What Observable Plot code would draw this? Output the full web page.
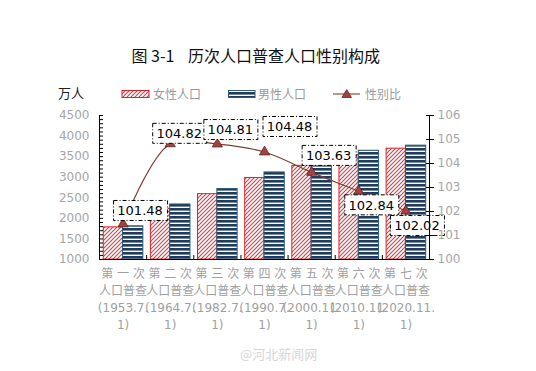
<!DOCTYPE html>
<html><head><meta charset="utf-8">
<script src="https://cdn.jsdelivr.net/npm/d3@7"></script>
<script src="https://cdn.jsdelivr.net/npm/@observablehq/plot@0.6"></script>
<style>
body{margin:0;background:#fff;}
#wrap{position:relative;width:536px;height:371px;overflow:hidden;font-family:"DejaVu Sans","Noto Sans CJK SC",sans-serif;}
#chart{position:absolute;left:0;top:0;}
#over{position:absolute;left:0;top:0;}
</style></head><body>
<div id="wrap"><div id="chart"></div>
<svg id="over" width="536" height="371" xmlns="http://www.w3.org/2000/svg">
  <defs>
    <pattern id="hatchF" patternUnits="userSpaceOnUse" width="4" height="4">
      <rect width="4" height="4" fill="#fff"/>
      <path d="M-1,1 l2,-2 M0,4 l4,-4 M3,5 l2,-2" stroke="#c9434e" stroke-width="1.1"/>
    </pattern>
    <pattern id="stripeM" patternUnits="userSpaceOnUse" width="4" height="4">
      <rect width="4" height="4" fill="#fff"/>
      <rect width="4" height="2.6" fill="#1f3b60"/>
    </pattern>
  </defs>
  <text x="131.5" y="62" font-family="Noto Sans CJK SC" font-size="16" fill="#111">图 3-1</text>
  <text x="188" y="62" font-family="Noto Sans CJK SC" font-size="16" fill="#111">历次人口普查人口性别构成</text>
  <text x="58" y="98" font-family="Noto Sans CJK SC" font-size="13" fill="#222">万人</text>
  <rect x="122" y="90.5" width="27" height="7" fill="url(#hatchF)" stroke="#e0202a"/>
  <text x="153" y="98.5" font-family="Noto Sans CJK SC" font-size="12" fill="#9a9a9a">女性人口</text>
  <rect x="228.5" y="90.5" width="26.5" height="7" fill="url(#stripeM)" stroke="#2b5a7c"/>
  <text x="258" y="98.5" font-family="Noto Sans CJK SC" font-size="12" fill="#9a9a9a">男性人口</text>
  <line x1="333" x2="360" y1="94" y2="94" stroke="#a07566" stroke-width="1.5"/>
  <path d="M346.7,89.5 L351.5,97.5 L341.9,97.5 Z" fill="#a5413f" stroke="#4a1a1a" stroke-width="0.7"/>
  <text x="365" y="98.5" font-family="Noto Sans CJK SC" font-size="12" fill="#9a9a9a">性别比</text>
  <text x="240" y="359" font-family="Noto Sans CJK SC" font-size="13" fill="#d6d6d6">@河北新闻网</text>
</svg>
</div>
<script>
// ---- data ----
const censusLabels = [
  "第 一 次\n人口普查\n(1953.7.\n1)",
  "第 二 次\n人口普查\n(1964.7.\n1)",
  "第 三 次\n人口普查\n(1982.7.\n1)",
  "第 四 次\n人口普查\n(1990.7.\n1)",
  "第 五 次\n人口普查\n(2000.11.\n1)",
  "第 六 次\n人口普查\n(2010.11.\n1)",
  "第 七 次\n人口普查\n(2020.11.\n1)"
];
const female = [1781, 2231, 2588, 2982, 3276, 3542, 3694];
const male = [1807, 2338, 2712, 3116, 3392, 3643, 3767];
const sexRatio = [101.48, 104.82, 104.81, 104.48, 103.63, 102.84, 102.02];
const leftTicks = [1000, 1500, 2000, 2500, 3000, 3500, 4000, 4500];
const rightTicks = [100, 101, 102, 103, 104, 105, 106];

// ---- styling / layout ----
const labelOffsets = [[17, -13], [9, -10], [13, -14], [25, -25], [17, -16.5], [12.5, 14], [11, 15]];
const barW = 0.41;
const yDomain = [leftTicks[0], leftTicks[leftTicks.length - 1]];
const rDomain = [rightTicks[0], rightTicks[rightTicks.length - 1]];
const xDomain = [-0.5, censusLabels.length - 0.5];
const toLeft = r => yDomain[0] + (r - rDomain[0]) * (yDomain[1] - yDomain[0]) / (rDomain[1] - rDomain[0]);
const fromLeft = v => rDomain[0] + (v - yDomain[0]) * (rDomain[1] - rDomain[0]) / (yDomain[1] - yDomain[0]);

const fRows = female.map((v, i) => ({i, v}));
const mRows = male.map((v, i) => ({i, v}));
const rRows = sexRatio.map((r, i) => ({i, r, y: toLeft(r)}));

const labelMarks = rRows.map((d, k) => Plot.text([d], {
  x: "i", y: "y", text: d => d.r.toFixed(2),
  dx: labelOffsets[k][0], dy: labelOffsets[k][1],
  fontSize: 13, fill: "#000", fontFamily: "DejaVu Sans"
}));

const chart = Plot.plot({
  width: 536, height: 371,
  marginLeft: 99, marginRight: 107, marginTop: 115, marginBottom: 112,
  style: {fontFamily: "DejaVu Sans, Noto Sans CJK SC, sans-serif", background: "transparent"},
  x: {type: "linear", domain: xDomain, label: null},
  y: {domain: yDomain, label: null},
  marks: [
    Plot.rectY(fRows, {x1: d => d.i - barW, x2: d => d.i, y1: yDomain[0], y2: "v",
      fill: "url(#hatchF)", stroke: "#e0202a", strokeWidth: 1}),
    Plot.rectY(mRows, {x1: d => d.i, x2: d => d.i + barW + 0.02, y1: yDomain[0], y2: "v",
      fill: "url(#stripeM)", stroke: "#2b5a7c", strokeWidth: 1}),
    Plot.line(rRows, {x: "i", y: "y", curve: "catmull-rom", stroke: "#7a3f2e", strokeWidth: 1.2}),
    Plot.dot(rRows, {x: "i", y: "y", symbol: "triangle", r: 3.8, fill: "#a5413f", stroke: "#4a1a1a", strokeWidth: 0.7}),
    ...labelMarks,
    // left axis
    Plot.axisY({ticks: leftTicks, tickFormat: d => String(d), tickSize: 0, tickPadding: 10, fontSize: 12, fill: "#a6a6a6", label: null}),
    Plot.axisY({ticks: d3.range(yDomain[0], yDomain[1] + 1, 100), tickSize: -4, fill: "none", stroke: "#000", label: null}),
    // right axis
    Plot.axisY({anchor: "right", ticks: rightTicks.map(toLeft), tickFormat: v => String(Math.round(fromLeft(v))),
      tickSize: 4, tickPadding: 4, fontSize: 12, fill: "#a6a6a6", stroke: "#000", label: null}),
    Plot.axisY({anchor: "right", ticks: rightTicks.map(toLeft), tickSize: -4, fill: "none", stroke: "#000", label: null}),
    // x axis
    Plot.axisX({ticks: d3.range(censusLabels.length), tickFormat: i => censusLabels[i], tickSize: 0, tickPadding: 7,
      fontSize: 12, fill: "#a0a0a0", lineHeight: 1.4, label: null}),
    Plot.axisX({ticks: d3.range(0.5, censusLabels.length - 1, 1), tickSize: -4, fill: "none", stroke: "#000", label: null}),
    Plot.ruleY([yDomain[0]], {stroke: "#000"}),
    Plot.ruleX([xDomain[0], xDomain[1]], {stroke: "#000"})
  ]
});
document.getElementById("chart").appendChild(chart);

// dash-dot boxes behind ratio labels (text marks only)
chart.querySelectorAll('g[aria-label="text"] text').forEach(t => {
  const bb = t.getBBox();
  const r = document.createElementNS("http://www.w3.org/2000/svg", "rect");
  r.setAttribute("x", Math.round(bb.x - 4) + 0.5);
  r.setAttribute("y", Math.round(bb.y - 3) + 0.5);
  r.setAttribute("width", Math.round(bb.width + 8));
  r.setAttribute("height", Math.round(bb.height + 5));
  r.setAttribute("fill", "#fff");
  r.setAttribute("stroke", "#000");
  r.setAttribute("stroke-width", "1");
  r.setAttribute("stroke-dasharray", "4,2,1,2");
  if (t.getAttribute("transform")) r.setAttribute("transform", t.getAttribute("transform"));
  t.parentNode.insertBefore(r, t);
});
</script>
</body></html>
